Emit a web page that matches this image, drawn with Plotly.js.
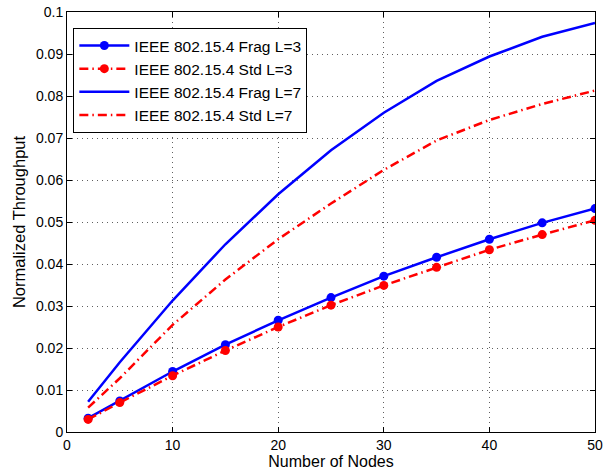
<!DOCTYPE html>
<html>
<head>
<meta charset="utf-8">
<script src="https://cdn.plot.ly/plotly-3.0.1.min.js"></script>
<style>html,body{margin:0;padding:0;background:#fff;}#chart{width:604px;height:474px;}</style>
</head>
<body>
<div id="chart"></div>
<script>
var nodes = [2, 5, 10, 15, 20, 25, 30, 35, 40, 45, 50];
var fragL3 = [0.0033, 0.0074, 0.0144, 0.0208, 0.0266, 0.0320, 0.0371, 0.0416, 0.0459, 0.0498, 0.0532];
var stdL3  = [0.0030, 0.0070, 0.0134, 0.0194, 0.0250, 0.0302, 0.0349, 0.0392, 0.0434, 0.0470, 0.0504];
var fragL7 = [0.0072, 0.0166, 0.0313, 0.0447, 0.0566, 0.0671, 0.0760, 0.0836, 0.0894, 0.0941, 0.0974];
var stdL7  = [0.0058, 0.0128, 0.0255, 0.0363, 0.0459, 0.0544, 0.0624, 0.0694, 0.0743, 0.0781, 0.0813];
var seriesNames = ['IEEE 802.15.4 Frag L=3', 'IEEE 802.15.4 Std L=3', 'IEEE 802.15.4 Frag L=7', 'IEEE 802.15.4 Std L=7'];
var xTicks = [0, 10, 20, 30, 40, 50];
var yTicks = [0, 0.01, 0.02, 0.03, 0.04, 0.05, 0.06, 0.07, 0.08, 0.09, 0.1];
var yTickText = ['0', '0.01', '0.02', '0.03', '0.04', '0.05', '0.06', '0.07', '0.08', '0.09', '0.1'];

var FONT = 'Liberation Sans, Arial, Helvetica, sans-serif';
var dashDot = '9px,4px,1.5px,4px';
var traces = [
  {x: nodes, y: fragL3, name: seriesNames[0], mode: 'lines+markers',
   line: {color: '#0000ff', width: 2.5}, marker: {color: '#0000ff', size: 9}},
  {x: nodes, y: stdL3, name: seriesNames[1], mode: 'lines+markers',
   line: {color: '#ff0000', width: 2.5, dash: dashDot}, marker: {color: '#ff0000', size: 9}},
  {x: nodes, y: fragL7, name: seriesNames[2], mode: 'lines',
   line: {color: '#0000ff', width: 2.5}},
  {x: nodes, y: stdL7, name: seriesNames[3], mode: 'lines',
   line: {color: '#ff0000', width: 2.5, dash: dashDot}}
];

var axisCommon = {
  showline: true, linecolor: '#000', linewidth: 1, mirror: 'ticks',
  ticks: 'inside', ticklen: 5, tickcolor: '#000',
  showgrid: true, gridcolor: '#606060', griddash: '1px,4px', gridwidth: 1,
  zeroline: false,
  tickfont: {family: FONT, size: 14, color: '#000'}
};

var layout = {
  width: 604, height: 474,
  margin: {l: 67, r: 9, t: 12, b: 42},
  paper_bgcolor: '#fff', plot_bgcolor: '#fff',
  showlegend: true,
  legend: {
    x: 0.012, y: 0.962, xanchor: 'left', yanchor: 'top',
    bgcolor: '#fff', bordercolor: '#000', borderwidth: 1,
    font: {family: FONT, size: 15.5, color: '#000'},
    tracegroupgap: 0, itemwidth: 50
  },
  xaxis: Object.assign({}, axisCommon, {
    range: [0, 50], tickvals: xTicks, ticktext: xTicks.map(String),
    title: {text: 'Number of Nodes', standoff: 3,
            font: {family: FONT, size: 16, color: '#000'}}
  }),
  yaxis: Object.assign({}, axisCommon, {
    range: [0, 0.1], tickvals: yTicks, ticktext: yTickText,
    title: {text: 'Normalized Throughput', standoff: 6,
            font: {family: FONT, size: 16.5, color: '#000'}}
  })
};

Plotly.newPlot('chart', traces, layout, {displayModeBar: false, staticPlot: true});
</script>
</body>
</html>
